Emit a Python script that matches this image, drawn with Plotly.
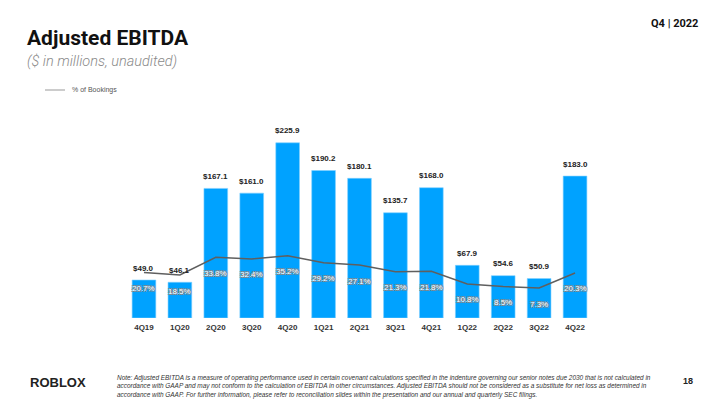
import plotly.graph_objects as go

quarters = ["4Q19", "1Q20", "2Q20", "3Q20", "4Q20", "1Q21", "2Q21", "3Q21", "4Q21", "1Q22", "2Q22", "3Q22", "4Q22"]
ebitda = [49.0, 46.1, 167.1, 161.0, 225.9, 190.2, 180.1, 135.7, 168.0, 67.9, 54.6, 50.9, 183.0]
pct_bookings = [20.7, 18.5, 33.8, 32.4, 35.2, 29.2, 27.1, 21.3, 21.8, 10.8, 8.5, 7.3, 20.3]

BLUE = "#00A2FF"
LINE = "#5f5f5f"
FONT = "Liberation Sans"

W, H = 720, 405
ML, MR, MT, MB = 126, 127, 100, 87
PW, PH = W - ML - MR, H - MT - MB


def px(x):
    return (x - ML) / PW


def py(y):
    return (H - MB - y) / PH


fig = go.Figure()
fig.add_trace(go.Bar(
    x=quarters, y=ebitda, marker=dict(color=BLUE, line=dict(color="#7fd0ff", width=0.6)),
    hoverinfo="skip", showlegend=False))
fig.add_trace(go.Scatter(
    x=quarters, y=pct_bookings, yaxis="y2", mode="lines",
    line=dict(color=LINE, width=1.5), hoverinfo="skip", showlegend=False))

annotations = []
for q, v in zip(quarters, ebitda):
    annotations.append(dict(x=q, y=v, xref="x", yref="y", text=f"${v:.1f}", showarrow=False,
                            yanchor="middle", yshift=12,
                            font=dict(family=FONT, size=8, color="#222", weight="bold")))
for q, p in zip(quarters, pct_bookings):
    annotations.append(dict(x=q, y=p, xref="x", yref="y2", text=f"{p:.1f}%", showarrow=False,
                            yanchor="middle", yshift=-16,
                            font=dict(family=FONT, size=8, color="white",
                                      shadow="-1px -1px 0 #888, 1px -1px 0 #888, -1px 1px 0 #888, 1px 1px 0 #888")))

annotations += [
    dict(x=px(25), y=py(38), xref="paper", yref="paper", xanchor="left", yanchor="middle",
         text="<b>Adjusted EBITDA</b>", showarrow=False,
         font=dict(family="Roboto", size=21, color="#111")),
    dict(x=px(25), y=py(62), xref="paper", yref="paper", xanchor="left", yanchor="middle",
         text="<i>($ in millions, unaudited)</i>", showarrow=False,
         font=dict(family="Roboto", size=14.5, color="#8a8a8a", weight=300)),
    dict(x=px(700), y=py(23), xref="paper", yref="paper", xanchor="right", yanchor="middle",
         text="<b>Q4 | 2022</b>", showarrow=False,
         font=dict(family="Roboto", size=11, color="#111")),
    dict(x=px(70), y=py(90), xref="paper", yref="paper", xanchor="left", yanchor="middle",
         text="% of Bookings", showarrow=False,
         font=dict(family=FONT, size=7, color="#555")),
    dict(x=px(28), y=py(382), xref="paper", yref="paper", xanchor="left", yanchor="middle",
         text="<b>ROBLOX</b>", showarrow=False,
         font=dict(family=FONT, size=13, color="#222")),
    dict(x=px(695), y=py(381), xref="paper", yref="paper", xanchor="right", yanchor="middle",
         text="<b>18</b>", showarrow=False,
         font=dict(family=FONT, size=9, color="#222")),
    dict(x=px(115), y=py(386), xref="paper", yref="paper", xanchor="left", yanchor="middle",
         align="left", showarrow=False,
         text="<i>Note: Adjusted EBITDA is a measure of operating performance used in certain covenant calculations specified in the indenture governing our senior notes due 2030 that is not calculated in<br>"
              "accordance with GAAP and may not conform to the calculation of EBITDA in other circumstances. Adjusted EBITDA should not be considered as a substitute for net loss as determined in<br>"
              "accordance with GAAP. For further information, please refer to reconciliation slides within the presentation and our annual and quarterly SEC filings.</i>",
         font=dict(family=FONT, size=6.45, color="#333")),
]

shapes = [dict(type="line", xref="paper", yref="paper", x0=px(45), x1=px(65),
               y0=py(90), y1=py(90), line=dict(color="#cccccc", width=2))]

fig.update_layout(
    width=W, height=H,
    margin=dict(l=ML, r=MR, t=MT, b=MB, autoexpand=False),
    paper_bgcolor="white", plot_bgcolor="white",
    bargap=0.34,
    xaxis=dict(type="category", showgrid=False, showline=False, zeroline=False, ticks="",
               ticklabelstandoff=3,
               tickfont=dict(family=FONT, size=8, color="#333", weight="bold")),
    yaxis=dict(range=[0, 281.1], visible=False, showgrid=False, fixedrange=True),
    yaxis2=dict(range=[-18.61, 169.65], overlaying="y", visible=False, showgrid=False),
    annotations=annotations, shapes=shapes, showlegend=False,
)

fig.write_html("out.html", config={"displayModeBar": False},
               post_script="document.body.style.margin='0';")
